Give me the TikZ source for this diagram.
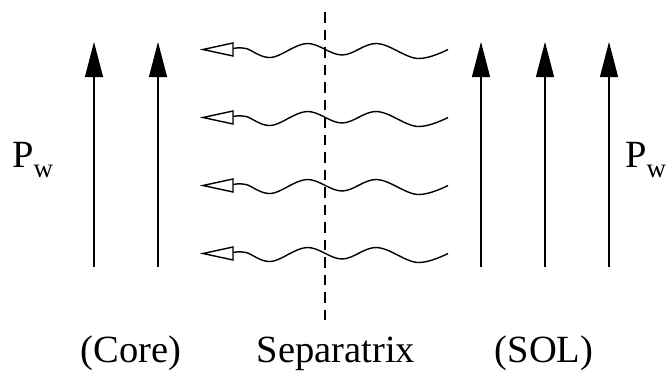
\documentclass[tikz,border=0pt]{standalone}
\usepackage{fontspec}
\setmainfont{Liberation Serif}
\usetikzlibrary{arrows.meta}
\begin{document}
\begin{tikzpicture}[x=1pt,y=-1pt]
\useasboundingbox (0,0) rectangle (671,372);
\tikzset{
  flow/.style={line width=1.1pt, -{Triangle[length=35pt,width=18pt]}},
  wave/.style={line width=1.4pt, line join=round},
  openhead/.style={line width=1.4pt, fill=white, line join=miter},
  sep/.style={line width=1.2pt, dash pattern=on 10.5pt off 7pt},
  lbl/.style={font=\fontsize{38.5}{40}\selectfont, inner sep=0pt, anchor=base}
}
% vertical flow arrows
\foreach \x/\n in {94/a1,158/a2,481/a3,545/a4,609/a5} {
  \coordinate (\n s) at (\x,266.5);
  \coordinate (\n e) at (\x,42);
  \draw[flow] (\n s) -- (\n e);
}
% separatrix
\coordinate (st) at (325,12);
\coordinate (sb) at (325,324);
\draw[sep] (st) -- (sb);
% wavy arrows
\foreach \y [count=\i] in {49.5,117.5,185.5,253.5} {
  \coordinate (t\i) at (203,\y);
  \coordinate (b\i) at (233,{\y-1});
  \coordinate (e\i) at (448,\y);
  \draw[wave] plot[smooth, tension=0.6] coordinates {(b\i) (246,{\y-1}) (271,{\y+8}) (307,{\y-6}) (342,{\y+5.5}) (377,{\y-6}) (417,{\y+9}) (e\i)};
  \draw[openhead] (t\i) -- (233,{\y-6.5}) -- (233,{\y+6.5}) -- cycle;
}
% labels
\node[lbl] (core) at (131,362) {(Core)};
\node[lbl] (sx) at (336,362) {Separatrix};
\node[lbl] (sol) at (544,362) {(SOL)};
\node[lbl, anchor=base west] (pwl) at (12,167) {P\raisebox{-10pt}{\fontsize{27}{27}\selectfont w}};
\node[lbl, anchor=base west] (pwr) at (625,167) {P\raisebox{-10pt}{\fontsize{27}{27}\selectfont w}};
\end{tikzpicture}
\end{document}
